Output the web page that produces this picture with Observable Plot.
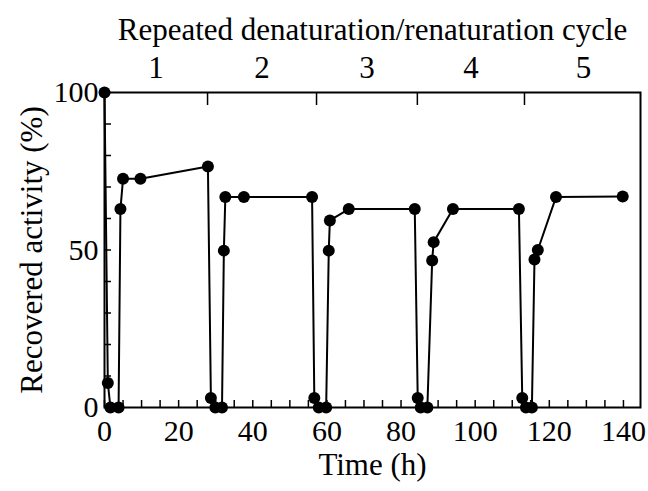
<!DOCTYPE html>
<html>
<head>
<meta charset="utf-8">
<script src="https://cdn.jsdelivr.net/npm/d3@7"></script>
<script src="https://cdn.jsdelivr.net/npm/@observablehq/plot@0.6"></script>
<style>
  html, body { margin: 0; padding: 0; background: #fff; }
</style>
</head>
<body>
<div id="chart"></div>
<script>
// Data
const timeH = [0, 0.9, 1.6, 3.8, 4.3, 5.0, 9.7, 27.9,
  28.7, 29.9, 31.7, 32.2, 32.6, 37.6, 56.0,
  56.6, 57.8, 59.8, 60.5, 60.8, 65.9, 83.7,
  84.5, 85.3, 87.1, 88.4, 88.8, 94.0, 111.8,
  112.7, 113.7, 115.3, 116.0, 116.9, 121.8, 139.8];
const activity = [100, 7.8, 0, 0, 63, 72.6, 72.6, 76.5,
  3, 0, 0, 49.8, 66.8, 66.8, 66.8,
  3, 0, 0, 49.8, 59.4, 63, 63,
  3, 0, 0, 46.7, 52.5, 63, 63,
  3, 0, 0, 47, 50, 66.8, 67];

const cycleLabels = ["1", "2", "3", "4", "5"];
const cycleCenters = [13.9, 42.5, 70.8, 98.9, 129.2];
const cycleBoundaries = [27.8, 57.2, 84.4, 113.3];

const xTickLabels = [0, 20, 40, 60, 80, 100, 120, 140];
const xMinorTicks = d3.range(0, 145, 5);
const yTickLabels = [0, 50, 100];
const yMinorTicks = d3.range(0, 101, 10);

const title = "Repeated denaturation/renaturation cycle";
const xLabel = "Time (h)";
const yLabel = "Recovered activity (%)";

const data = timeH.map((t, i) => ({t, a: activity[i]}));
const cycles = cycleLabels.map((c, i) => ({c, x: cycleCenters[i]}));

const FS = 30;
const FL = 31;

const chart = Plot.plot({
  width: 648,
  height: 491,
  marginLeft: 104,
  marginRight: 8,
  marginTop: 92,
  marginBottom: 84,
  style: {fontFamily: "'Liberation Serif', 'Times New Roman', serif", fontSize: FS + "px", color: "#000", background: "#fff"},
  x: {domain: [0, 144.6]},
  y: {domain: [0, 100]},
  marks: [
    Plot.frame({stroke: "#000", strokeWidth: 2}),
    // inward minor ticks
    Plot.axisX({ticks: xMinorTicks, tickSize: -7, tickFormat: () => "", strokeWidth: 1.5, label: null}),
    Plot.axisX({ticks: xTickLabels, tickSize: 0, tickPadding: 12, fontSize: FS, label: null}),
    Plot.axisY({ticks: yMinorTicks, tickSize: -7, tickFormat: () => "", strokeWidth: 1.5, label: null}),
    Plot.axisY({ticks: yTickLabels, tickSize: 0, tickPadding: 6, fontSize: FS, label: null}),
    Plot.axisX({anchor: "top", ticks: cycleBoundaries, tickSize: -12, tickFormat: () => "", strokeWidth: 1.5, label: null}),
    Plot.text([xLabel], {frameAnchor: "bottom", lineAnchor: "middle", textAnchor: "middle", dy: 58, fontSize: FL}),
    Plot.text([yLabel], {frameAnchor: "left", lineAnchor: "middle", textAnchor: "middle", rotate: -90, dx: -72, fontSize: FL}),
    Plot.text(cycles, {x: "x", text: "c", frameAnchor: "top", lineAnchor: "middle", textAnchor: "middle", dy: -24, fontSize: FL}),
    Plot.text([title], {frameAnchor: "top", lineAnchor: "middle", textAnchor: "middle", dy: -62, fontSize: FL}),
    Plot.line(data, {x: "t", y: "a", stroke: "#000", strokeWidth: 2}),
    Plot.dot(data, {x: "t", y: "a", r: 6, fill: "#000", stroke: "none"})
  ]
});
document.getElementById("chart").appendChild(chart);
</script>
</body>
</html>
